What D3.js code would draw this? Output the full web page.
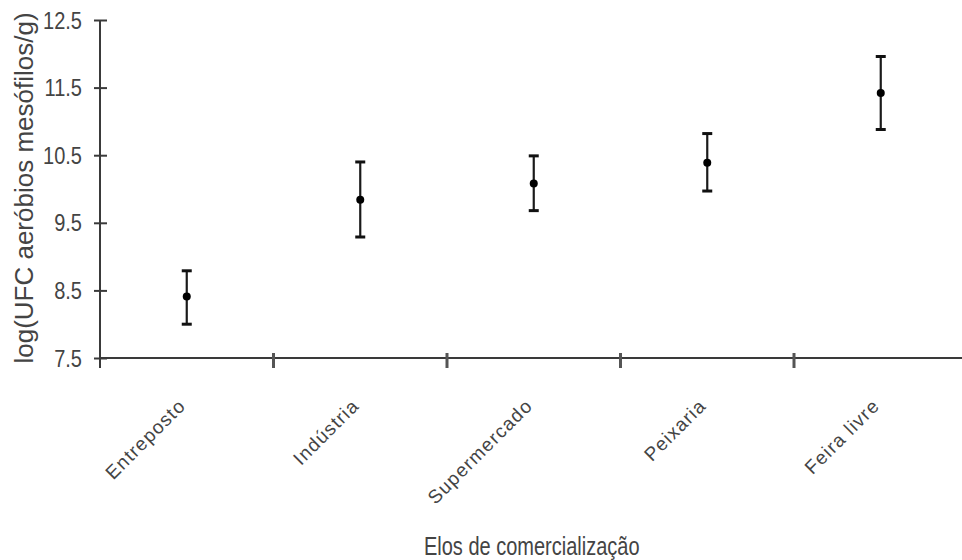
<!DOCTYPE html>
<html>
<head>
<meta charset="utf-8">
<script src="https://cdn.jsdelivr.net/npm/d3@7"></script>
<style>
  html, body { margin: 0; padding: 0; background: #fff; }
  svg { display: block; }
  text { font-family: "Liberation Sans", Arial, sans-serif; }
</style>
</head>
<body>
<svg id="chart" width="962" height="560"></svg>
<script>
// ---- data ----
const categories = ["Entreposto", "Indústria", "Supermercado", "Peixaria", "Feira livre"];
const means = [8.41, 9.84, 10.08, 10.39, 11.42];
const upper = [8.79, 10.40, 10.49, 10.82, 11.96];
const lower = [8.00, 9.29, 9.68, 9.97, 10.88];
const yTicks = [7.5, 8.5, 9.5, 10.5, 11.5, 12.5];
const yTitle = "log(UFC aeróbios mesófilos/g)";
const xTitle = "Elos de comercialização";

// ---- layout ----
const svg = d3.select("#chart");
const mLeft = 100, mRight = 967.5, mTop = 20, mBottom = 358;

const x = d3.scaleBand().domain(categories).range([mLeft, mRight]).padding(0);
const y = d3.scaleLinear().domain([7.5, 12.5]).range([mBottom, mTop]);

const axisColor = "#3a3a3a";
const textColor = "#444";

// Y axis
const yAxis = svg.append("g").attr("transform", `translate(${mLeft},0)`)
  .call(d3.axisLeft(y).tickValues(yTicks).tickSize(0).tickFormat(""));
yAxis.select(".domain").attr("stroke", axisColor).attr("stroke-width", 2)
  .attr("d", `M0,${mTop}V${mBottom + 10}`);
yAxis.selectAll(".tick line").attr("x1", -6).attr("x2", 7)
  .attr("stroke", axisColor).attr("stroke-width", 2);

// Y tick labels (vertically stretched like the reference)
svg.append("g").selectAll("g").data(yTicks).join("g")
  .attr("transform", d => `translate(${mLeft - 18},${y(d)}) scale(1,1.2)`)
  .append("text")
  .attr("text-anchor", "end")
  .attr("dy", "0.36em")
  .attr("font-size", 20)
  .attr("fill", textColor)
  .text(d => d3.format(".1f")(d));

// X axis
const xAxis = svg.append("g").attr("transform", `translate(0,${mBottom})`)
  .call(d3.axisBottom(x).tickSize(0).tickFormat(""));
xAxis.select(".domain").attr("stroke", axisColor).attr("stroke-width", 2)
  .attr("d", `M${mLeft},0H962`);
xAxis.selectAll(".tick").remove();
// category boundary ticks
const bounds = categories.map(c => x(c)).concat([x(categories[categories.length - 1]) + x.bandwidth()]);
xAxis.append("g").selectAll("line").data(bounds.slice(1)).join("line")
  .attr("x1", d => d).attr("x2", d => d)
  .attr("y1", -5).attr("y2", 10)
  .attr("stroke", "#555").attr("stroke-width", 3);

// X category labels
svg.append("g").selectAll("text").data(categories).join("text")
  .attr("transform", d => `translate(${x(d) + x.bandwidth() / 2},${mBottom + 49}) rotate(-45)`)
  .attr("text-anchor", "end")
  .attr("font-size", 19)
  .attr("letter-spacing", 1.2)
  .attr("fill", textColor)
  .text(d => d);

// Axis titles
svg.append("g").attr("transform", `translate(${(mLeft + mRight) / 2 - 2},555) scale(1,1.25)`)
  .append("text")
  .attr("text-anchor", "middle")
  .attr("font-size", 20)
  .attr("fill", textColor)
  .text(xTitle);

svg.append("text")
  .attr("transform", `translate(33,188) rotate(-90)`)
  .attr("text-anchor", "middle")
  .attr("font-size", 26)
  .attr("fill", textColor)
  .text(yTitle);

// ---- error bars ----
const data = categories.map((c, i) => ({ c, m: means[i], hi: upper[i], lo: lower[i] }));
const cx = d => x(d.c) + x.bandwidth() / 2;
const g = svg.append("g");
g.selectAll("line.v").data(data).join("line").attr("class", "v")
  .attr("x1", cx).attr("x2", cx)
  .attr("y1", d => y(d.hi)).attr("y2", d => y(d.lo))
  .attr("stroke", "#1a1a1a").attr("stroke-width", 2.2);
g.selectAll("line.cap-hi").data(data).join("line").attr("class", "cap-hi")
  .attr("x1", d => cx(d) - 5).attr("x2", d => cx(d) + 5)
  .attr("y1", d => y(d.hi)).attr("y2", d => y(d.hi))
  .attr("stroke", "#111").attr("stroke-width", 3);
g.selectAll("line.cap-lo").data(data).join("line").attr("class", "cap-lo")
  .attr("x1", d => cx(d) - 5).attr("x2", d => cx(d) + 5)
  .attr("y1", d => y(d.lo)).attr("y2", d => y(d.lo))
  .attr("stroke", "#111").attr("stroke-width", 3);
g.selectAll("circle").data(data).join("circle")
  .attr("cx", cx).attr("cy", d => y(d.m)).attr("r", 4)
  .attr("fill", "#000");
</script>
</body>
</html>
